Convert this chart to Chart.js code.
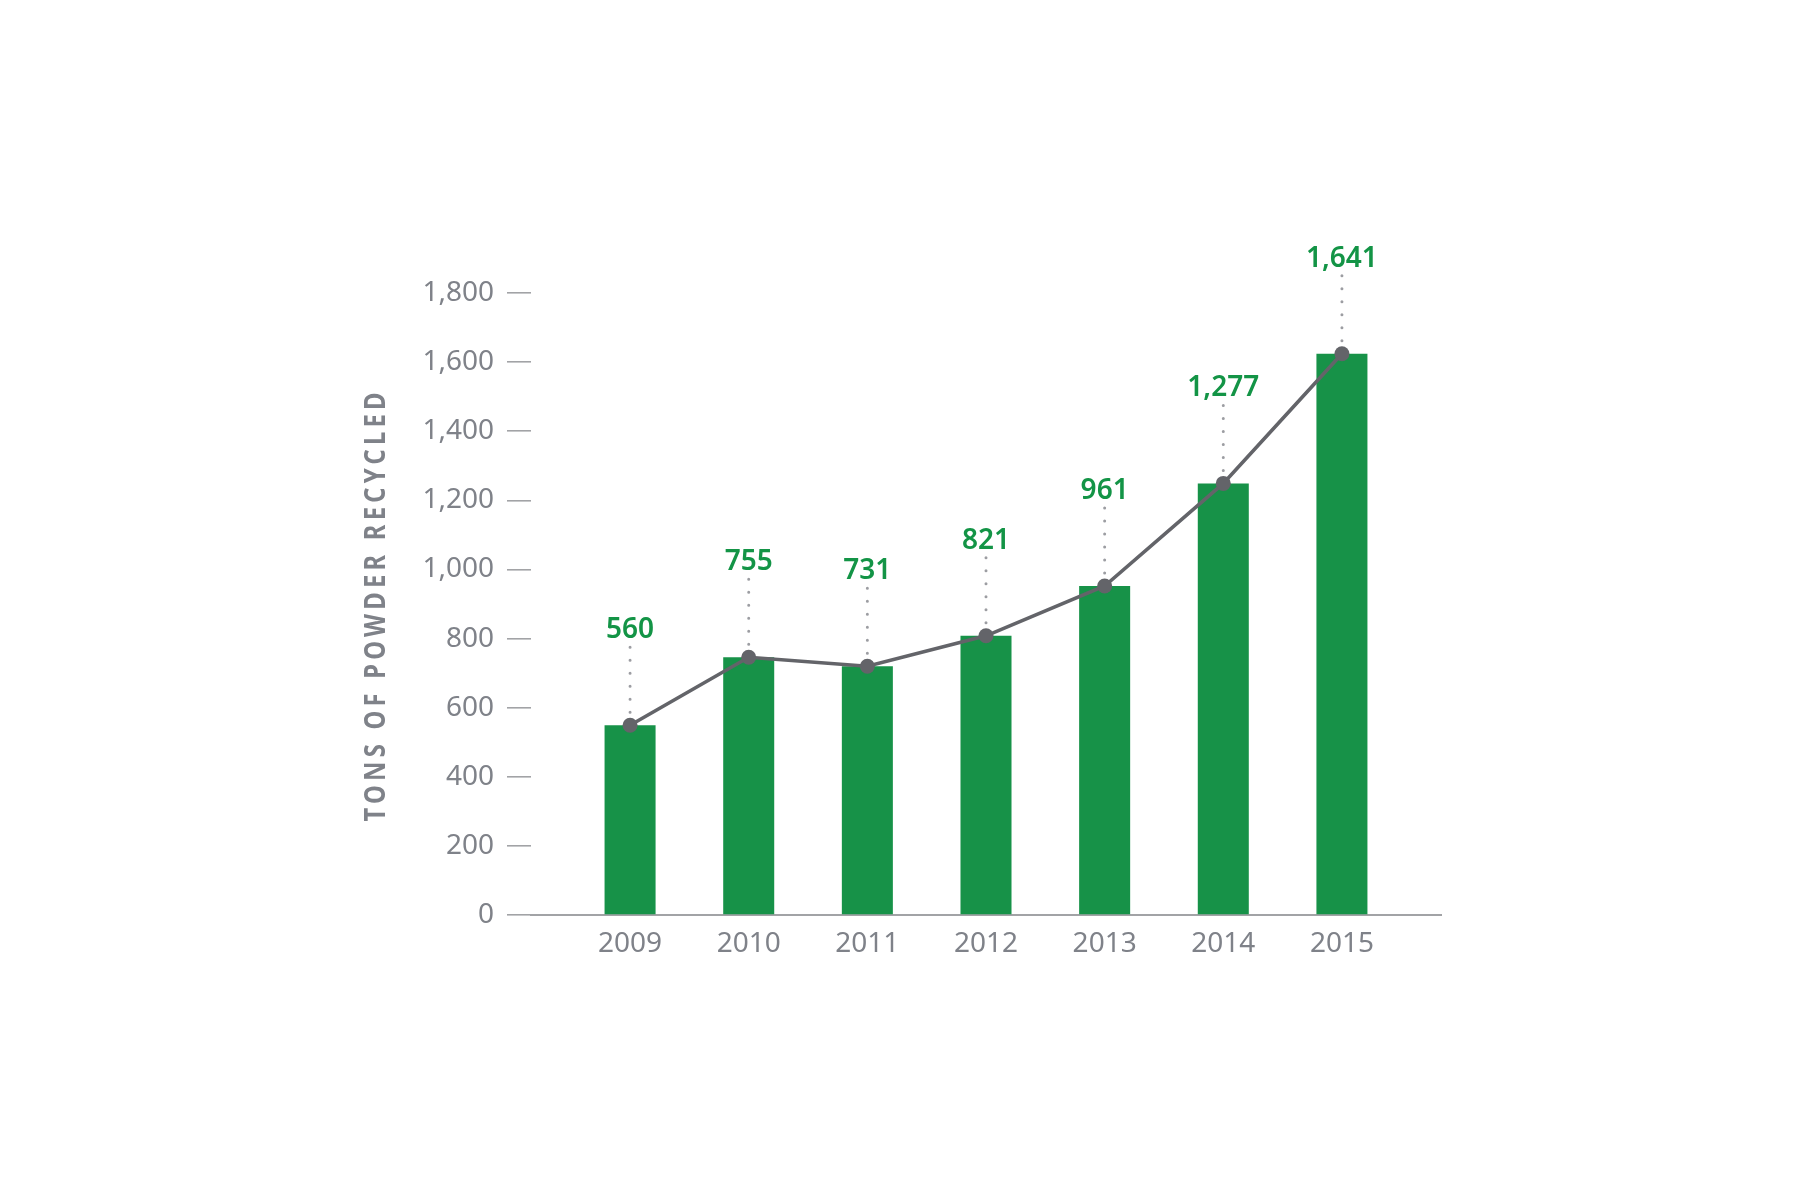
<!DOCTYPE html>
<html><head><meta charset="utf-8">
<script src="https://cdn.jsdelivr.net/npm/chart.js@4"></script>
<style>html,body{margin:0;padding:0;background:#fff}#wrap{width:1800px;height:1200px;position:relative}</style>
</head><body><div id="wrap"><canvas id="c"></canvas></div>
<script>
// ---- data ----
const years = ['2009', '2010', '2011', '2012', '2013', '2014', '2015'];
// heights of the bars / line points as drawn in the picture
const barValues = [549, 746, 720, 808, 952, 1249, 1624];
// values printed above each point
const labelValues = [560, 755, 731, 821, 961, 1277, 1641];
const yMin = 0, yMax = 1800, yStep = 200;
const axisTitle = 'TONS OF POWDER RECYCLED';

// ---- styles ----
const GREEN_BAR = '#179248';
const GREEN_TEXT = '#139446';
const LINE_GREY = '#636469';
const TEXT_GREY = '#7f8289';
const RULE_GREY = '#a2a3a6';
const FONT = '"Noto Sans", sans-serif';

Chart.defaults.font.family = FONT;

const points = years.map((y, i) => ({ x: i, y: barValues[i] }));

const valueLabels = {
  id: 'valueLabels',
  afterDatasetsDraw(chart) {
    const meta = chart.getDatasetMeta(0);
    const ctx = chart.ctx;
    ctx.save();
    meta.data.forEach((pt, i) => {
      const { x, y } = pt.getProps(['x', 'y'], true);
      ctx.beginPath();
      ctx.setLineDash([0, 13]);
      ctx.lineCap = 'round';
      ctx.lineWidth = 3;
      ctx.strokeStyle = '#9c9da2';
      ctx.moveTo(x, y - 78);
      ctx.lineTo(x, y - 12);
      ctx.stroke();
      ctx.setLineDash([]);
      ctx.font = '600 28px ' + FONT;
      ctx.fillStyle = GREEN_TEXT;
      ctx.textAlign = 'center';
      ctx.textBaseline = 'alphabetic';
      ctx.fillText(labelValues[i].toLocaleString('en-US'), x, y - 87);
    });
    ctx.restore();
  }
};

const yTitle = {
  id: 'yTitle',
  afterDraw(chart) {
    const ctx = chart.ctx;
    ctx.save();
    ctx.font = '700 28px ' + FONT;
    ctx.letterSpacing = '5px';
    ctx.fillStyle = TEXT_GREY;
    const w = ctx.measureText(axisTitle).width - 5;
    const target = 429;
    ctx.translate(375, 607);
    ctx.rotate(-Math.PI / 2);
    ctx.scale(target / w, 1);
    ctx.textAlign = 'center';
    ctx.textBaseline = 'alphabetic';
    ctx.fillText(axisTitle, 2.5, 10);
    ctx.restore();
  }
};

new Chart(document.getElementById('c'), {
  data: {
    datasets: [
      {
        type: 'line',
        data: points,
        borderColor: LINE_GREY,
        borderWidth: 3.6,
        backgroundColor: LINE_GREY,
        pointBackgroundColor: LINE_GREY,
        pointBorderWidth: 0,
        pointRadius: 7.5,
        tension: 0,
        order: 0
      },
      {
        type: 'bar',
        data: points,
        backgroundColor: GREEN_BAR,
        borderWidth: 0,
        categoryPercentage: 1,
        barPercentage: 0.43,
        order: 1
      }
    ]
  },
  options: {
    responsive: true,
    maintainAspectRatio: false,
    animation: false,
    locale: 'en-US',
    layout: { padding: { top: 293, left: 0, right: 359, bottom: 225 } },
    plugins: { legend: { display: false }, tooltip: { enabled: false } },
    scales: {
      x: {
        type: 'linear',
        offset: false,
        min: -0.835,
        max: 6.835,
        afterBuildTicks(scale) { scale.ticks = years.map((_, i) => ({ value: i })); },
        afterFit(scale) { scale.height = 60; },
        ticks: {
          callback: (v) => years[v] ?? '',
          color: TEXT_GREY,
          font: { size: 28 },
          padding: 12,
          maxRotation: 0,
          autoSkip: false
        },
        grid: { offset: false, drawOnChartArea: false, drawTicks: false },
        border: { display: true, color: RULE_GREY, width: 2 }
      },
      y: {
        min: yMin,
        max: yMax,
        afterFit(scale) { scale.width = 531; },
        ticks: {
          stepSize: yStep,
          color: TEXT_GREY,
          font: { size: 28 },
          padding: 13
        },
        grid: { drawOnChartArea: false, drawTicks: true, tickLength: 24, color: RULE_GREY, lineWidth: 1.6 },
        border: { display: false }
      }
    }
  },
  plugins: [valueLabels, yTitle]
});
</script>
</body></html>
